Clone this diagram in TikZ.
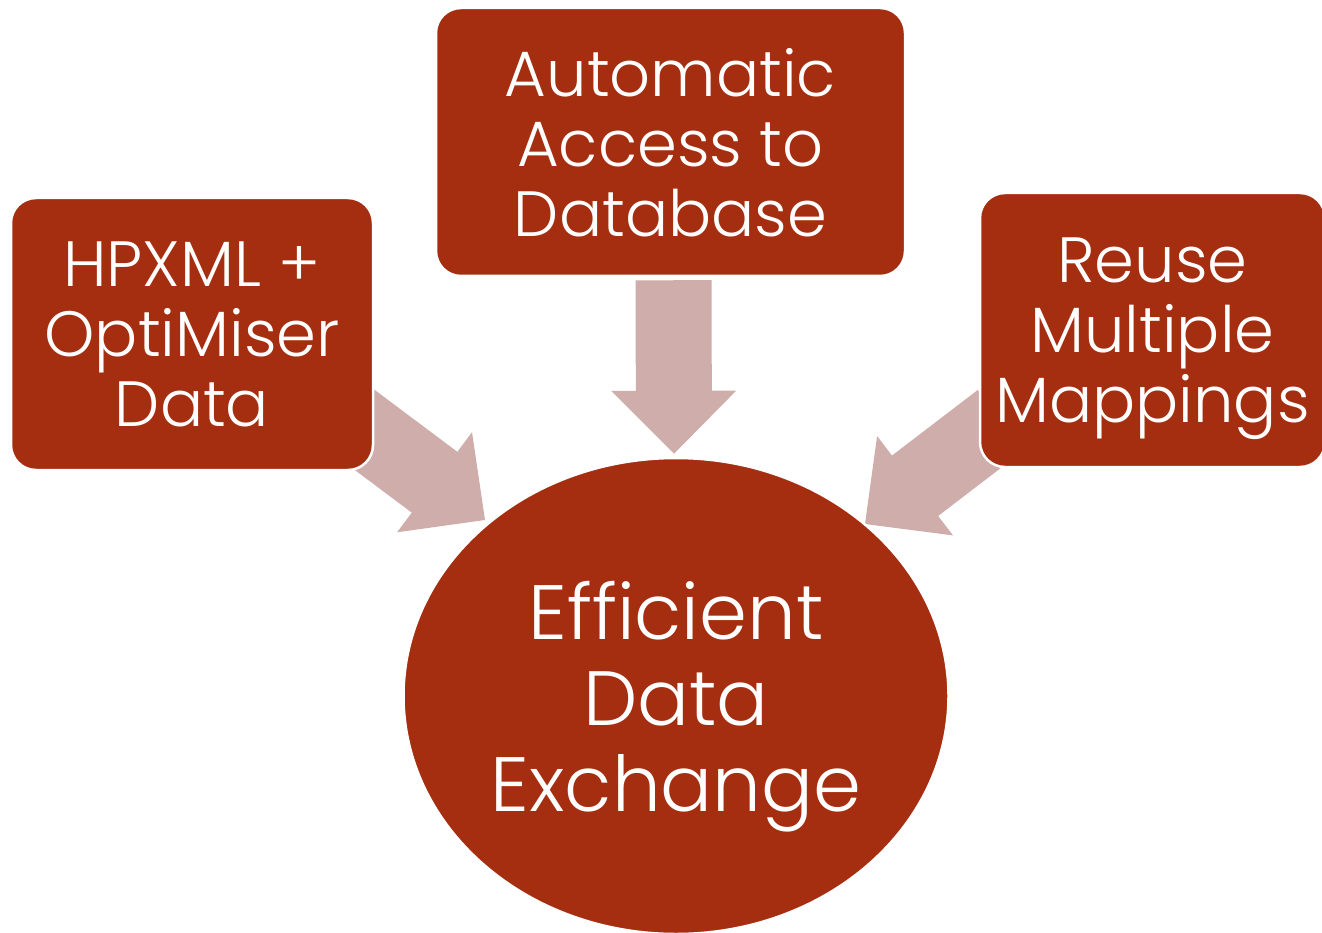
\documentclass[tikz,border=0pt]{standalone}
\usepackage{fontspec}
\setmainfont{Poppins}[UprightFont=* Light]
\usetikzlibrary{positioning,arrows.meta,backgrounds,calc,shapes.geometric}

\definecolor{rust}{RGB}{165,46,16}
\definecolor{dustrose}{RGB}{207,173,171}

\tikzset{
  ideabox/.style={rectangle, rounded corners=25pt, fill=rust, draw=white, line width=2.5pt,
    text=white, align=center, inner sep=0pt, text depth=0pt, font=\fontsize{64}{70}\selectfont},
  goal/.style={ellipse, fill=rust, draw=white, line width=2.5pt, text=white, align=center,
    inner sep=0pt, text depth=0pt, minimum width=545pt, minimum height=476pt,
    font=\fontsize{77}{86}\selectfont},
  % seta larga: haste de 76pt, ponta de 125pt x 63pt
  fatarrow/.style={fill=dustrose, to path={
    let \p1=(\tikztostart), \p2=(\tikztotarget),
        \n1={atan2(\y2-\y1,\x2-\x1)}, \n2={veclen(\x2-\x1,\y2-\y1)-63pt} in
    ($(\p1)+(\n1+90:38pt)$) -- ++(\n1:\n2) -- ++(\n1+90:24.5pt) -- (\p2)
    -- ($(\p1)+(\n1:\n2)+(\n1-90:62.5pt)$) -- ++(\n1+90:24.5pt)
    -- ($(\p1)+(\n1-90:38pt)$) -- cycle}},
}

\begin{document}
\begin{tikzpicture}[x=1pt, y=-1pt]
        \useasboundingbox (0,0) rectangle (1322,933);

        % Caixas
        \node[ideabox, minimum width=362pt, minimum height=272pt] (hpxml) at (192,334)
            {HPXML +\\OptiMiser\\Data};
        \node[ideabox, minimum width=469pt, minimum height=268pt] (access) at (670.5,142)
            {Automatic\\Access to\\Database};
        \node[ideabox, minimum width=345pt, minimum height=274pt] (reuse) at (1152.5,330)
            {Reuse\\Multiple\\Mappings};

        % Elipse central
        \node[goal] (exchange) at (676,696) {Efficient\\Data\\Exchange};

        % Setas
        \begin{scope}[on background layer]
            \fill[white] (0,0) rectangle (1322,933);
            \path[fatarrow] ($(access.south)+(3,3)$) to ($(exchange.north)+(-2,-3)$);
            \path[fatarrow] ($(hpxml.south east)+(-26.5,-54)$) to ($(exchange.center)+(-191,-176)$);
            \path[fatarrow] ($(reuse.south west)+(22,-48)$) to ($(exchange.center)+(189,-172)$);
        \end{scope}
    \end{tikzpicture}
\end{document}
